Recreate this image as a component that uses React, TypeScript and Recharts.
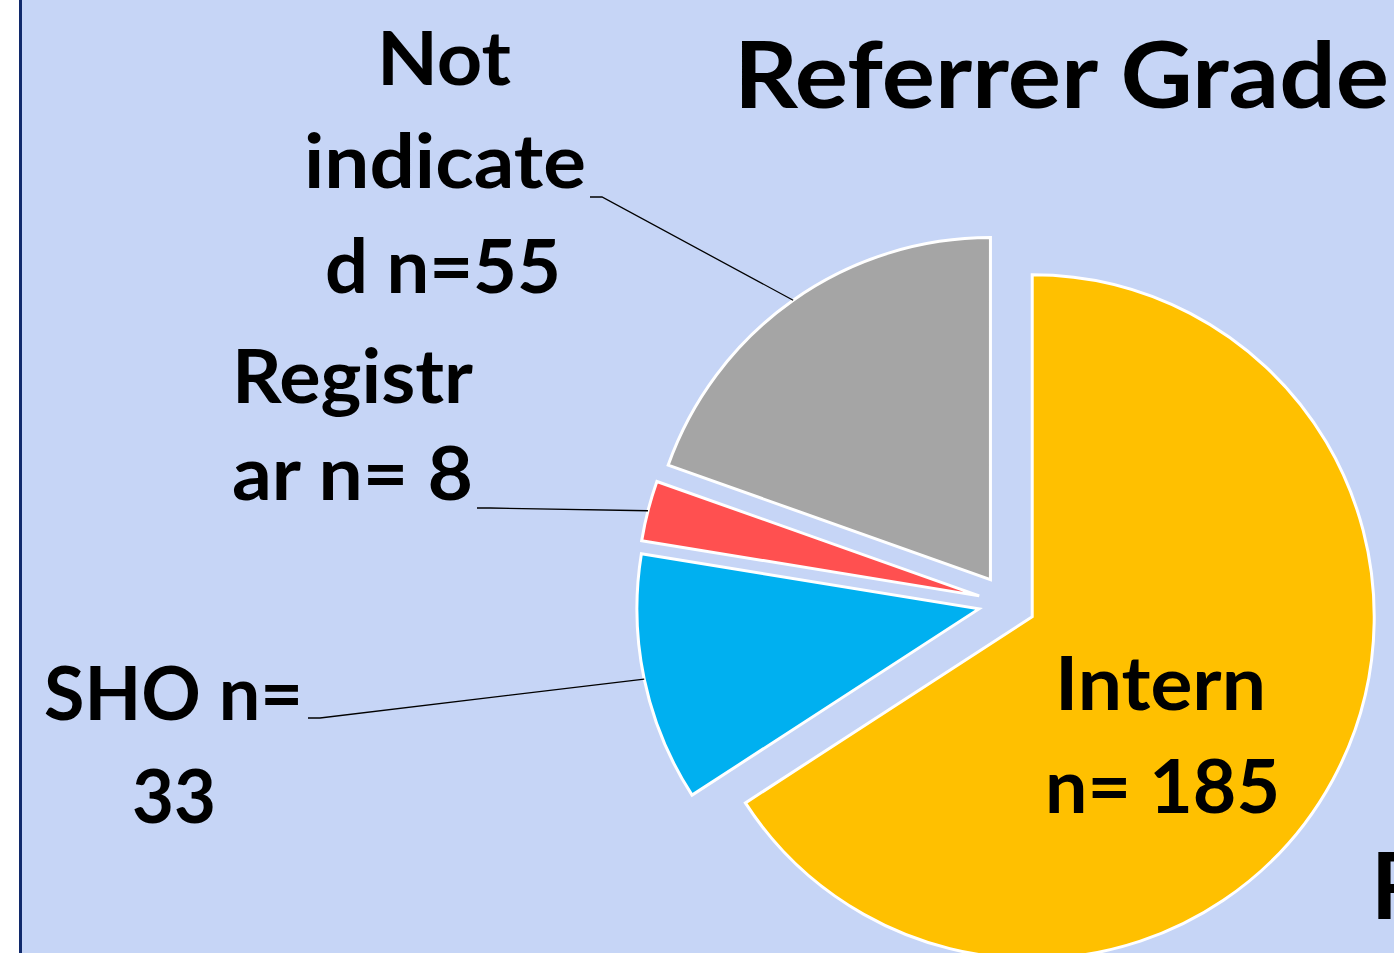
import React from 'react';
import { PieChart, Pie, Cell } from 'recharts';

// ---- data ----
const categories = ['Intern', 'SHO', 'Registrar', 'Not indicated'];
const counts = [185, 33, 8, 55];
const labelTexts: string[][] = [
  ['Intern', 'n= 185'],
  ['SHO n=', '33'],
  ['Registr', 'ar n= 8'],
  ['Not', 'indicate', 'd n=55'],
];
const sliceColors = ['#FFC000', '#00B0F0', '#FF5050', '#A5A5A5'];
const titleText = 'Referrer Grade';

const data = categories.map((name, i) => ({ name, value: counts[i] }));

// ---- layout / style ----
const W = 1394;
const H = 953;
const BG = '#C6D5F6';
const BORDER = '#10296B';
const PIE_CX = 1007;
const PIE_CY = 603;
const OUTER_R = 342;
const EXPLODE = 28.7;
const START = 90;
const END = -270;
const FONT = 'Lato, "Open Sans", "DejaVu Sans", sans-serif';
const LABEL_SIZE = 74;
const TITLE_SIZE = 91;

// per line: [x, width, baseline]
const labelLayout: { lines: number[][]; leader: number[][] | null }[] = [
  { lines: [[1055, 211, 710], [1045, 235, 813]], leader: null },
  { lines: [[44, 259, 720], [132, 84, 823]], leader: [[308, 718], [320, 718]] },
  { lines: [[232, 241, 403], [232, 241, 500]], leader: [[477, 508], [490, 508]] },
  { lines: [[377, 134, 85], [304, 282, 188], [325, 236, 293]], leader: [[590, 197], [602, 197]] },
];

const total = counts.reduce((a, b) => a + b, 0);
let acc = 0;
const centers = counts.map((v) => {
  const mid = START + ((END - START) * (acc + v / 2)) / total;
  acc += v;
  const r = (mid * Math.PI) / 180;
  return { cx: PIE_CX + EXPLODE * Math.cos(r), cy: PIE_CY - EXPLODE * Math.sin(r) };
});

const makeLabel = (slice: number) => (props: any) => {
  if (props.index !== slice) return null;
  const L = labelLayout[slice];
  const { cx, cy, midAngle, outerRadius } = props;
  const rad = (-midAngle * Math.PI) / 180;
  const ax = cx + outerRadius * Math.cos(rad);
  const ay = cy + outerRadius * Math.sin(rad);
  return (
    <g>
      {L.leader && (
        <polyline
          points={`${L.leader[0][0]},${L.leader[0][1]} ${L.leader[1][0]},${L.leader[1][1]} ${ax},${ay}`}
          fill="none"
          stroke="#000"
          strokeWidth={1.3}
        />
      )}
      {labelTexts[slice].map((t, k) => (
        <text
          key={k}
          x={L.lines[k][0]}
          y={L.lines[k][2]}
          textLength={L.lines[k][1]}
          lengthAdjust="spacingAndGlyphs"
          fontFamily={FONT}
          fontWeight={700}
          fontSize={LABEL_SIZE}
          fill="#000"
        >
          {t}
        </text>
      ))}
    </g>
  );
};

export default function App() {
  return (
    <div style={{ position: 'absolute', left: 0, top: 0, width: W, height: H, background: '#fff', overflow: 'hidden' }}>
      <div style={{ position: 'absolute', left: 19, top: 0, width: 3, height: H, background: BORDER }} />
      <div style={{ position: 'absolute', left: 22, top: 0, width: W - 22, height: H, background: BG }} />
      <div style={{ position: 'absolute', left: 0, top: 0 }}>
        <PieChart width={W} height={H} margin={{ top: 0, right: 0, bottom: 0, left: 0 }}>
          {centers.map((c, i) => (
            <Pie
              key={i}
              data={data}
              dataKey="value"
              nameKey="name"
              cx={c.cx}
              cy={c.cy}
              innerRadius={0}
              outerRadius={OUTER_R}
              startAngle={START}
              endAngle={END}
              isAnimationActive={false}
              label={makeLabel(i)}
              labelLine={false}
            >
              {data.map((d, j) => (
                <Cell
                  key={d.name}
                  fill={j === i ? sliceColors[j] : 'none'}
                  stroke={j === i ? '#FFFFFF' : 'none'}
                  strokeWidth={j === i ? 3 : 0}
                />
              ))}
            </Pie>
          ))}
        </PieChart>
      </div>
      <svg width={W} height={H} style={{ position: 'absolute', left: 0, top: 0, pointerEvents: 'none' }}>
        <text
          x={734}
          y={108}
          textLength={655}
          lengthAdjust="spacingAndGlyphs"
          fontFamily={FONT}
          fontWeight={700}
          fontSize={TITLE_SIZE}
          fill="#000"
        >
          {titleText}
        </text>
        <text x={1371} y={919} fontFamily={FONT} fontWeight={700} fontSize={TITLE_SIZE} fill="#000">
          R
        </text>
      </svg>
    </div>
  );
}
